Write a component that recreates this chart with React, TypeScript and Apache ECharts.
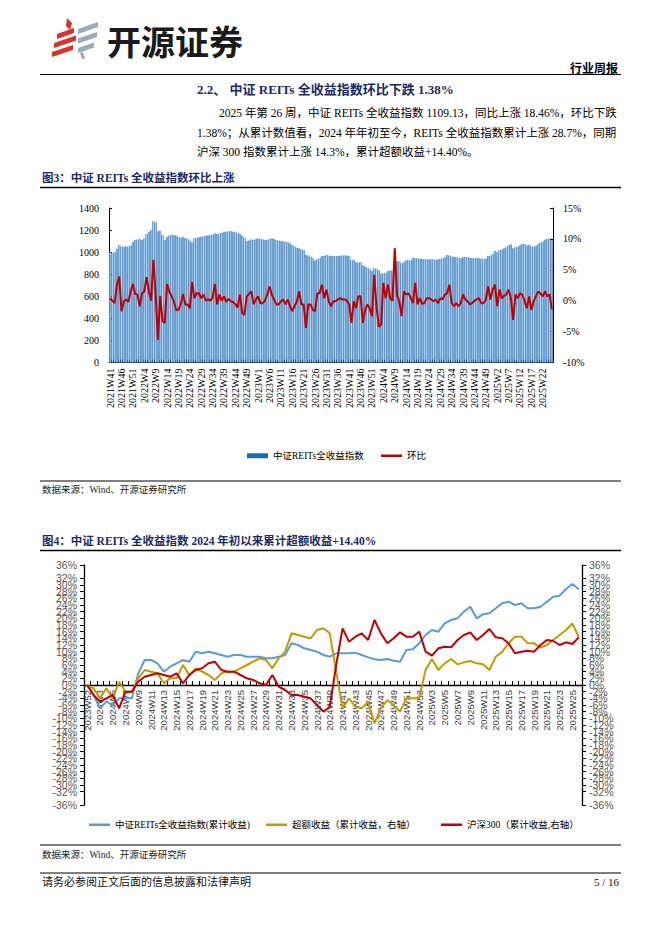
import React, { useEffect, useRef } from "react";
import * as echarts from "echarts";

// ---------- categories ----------
const weekSpans1: number[][] = [[2021, 41, 52], [2022, 1, 53], [2023, 1, 52], [2024, 1, 52], [2025, 1, 26]];
const weekSpans2: number[][] = [[2023, 52, 52], [2024, 2, 53], [2025, 2, 26]];
function weekLabels(spans: number[][]): string[] {
  const out: string[] = [];
  spans.forEach(([y, a, b]) => { for (let w = a; w <= b; w++) out.push(`${y}W${w}`); });
  return out;
}
const weeks1 = weekLabels(weekSpans1);
const weeks2 = weekLabels(weekSpans2);

// ---------- chart 1 data ----------
const reitsIndex: number[] = [
  1000, 995, 1000, 1030, 1065, 1050, 1050, 1050, 1050, 1060,
  1095, 1110, 1115, 1120, 1110, 1125, 1165, 1185, 1200, 1280,
  1270, 1190, 1195, 1155, 1110, 1140, 1150, 1155, 1155, 1150,
  1140, 1130, 1140, 1130, 1120, 1105, 1090, 1125, 1130, 1135,
  1140, 1145, 1150, 1150, 1155, 1160, 1170, 1165, 1170, 1175,
  1185, 1185, 1190, 1190, 1185, 1185, 1175, 1165, 1150, 1130,
  1100, 1105, 1115, 1110, 1120, 1125, 1120, 1115, 1110, 1110,
  1120, 1125, 1120, 1110, 1105, 1100, 1100, 1095, 1090, 1080,
  1065, 1050, 1040, 1035, 1025, 1020, 975, 970, 960, 945,
  925, 935, 945, 965, 965, 975, 970, 965, 965, 965,
  965, 968, 970, 970, 970, 965, 930, 930, 910, 905,
  910, 880, 870, 860, 845, 830, 855, 850, 835, 805,
  810, 812, 830, 832, 835, 910, 920, 918, 898, 912,
  925, 930, 925, 950, 945, 945, 940, 938, 935, 938,
  935, 935, 935, 932, 935, 937, 945, 955, 975, 970,
  962, 958, 955, 950, 945, 955, 957, 955, 950, 945,
  945, 948, 945, 940, 940, 942, 965, 967, 985, 1010,
  1000, 1020, 1025, 1035, 1045, 1065, 1070, 1035, 1045, 1050,
  1063, 1075, 1075, 1060, 1068, 1052, 1050, 1058, 1075, 1088,
  1096, 1112, 1120, 1125, 1109.13,
];
const weeklyChange: number[] = [
  0.4, 0, -0.4, 2.6, 3.9, -1.7, -0.1, 0.2, -0.2, 1.5,
  2.7, 1.1, 1.0, -0.9, 1.2, 1.5, 3.8, 1.5, 0.0, 6.6,
  1.0, -6.3, 0.8, -3.3, -3.6, 2.7, 1.5, 0.7, -0.1, -1.5,
  -1.5, -0.6, 1.1, -0.6, -0.6, -1.2, 3.0, 0.4, 1.2, 1.2,
  0.4, 1.0, 0.0, 0.2, 0.0, 0.5, 2.7, -0.6, 1.0, 0.0,
  0.7, -0.2, 0.3, -0.1, -0.2, -0.6, -1.1, 1.0, -2.0, -2.3,
  0.7, 1.1, 1.5, -0.6, 0.2, 0.7, -0.4, -0.4, 0.0, 1.0,
  2.3, 1.0, 0.2, -0.6, -0.6, -0.1, 0.2, -0.6, 0.2, -0.9,
  -1.7, -0.9, -0.1, 1.5, -0.6, -0.6, -4.4, -0.6, -0.6, -1.5,
  -1.7, 1.2, 1.2, 2.6, 0.4, 1.8, -0.1, -0.9, -0.1, -0.1,
  0.2, 0.4, 0.2, 0.2, 0.0, -0.6, -3.6, -0.1, -1.2, 0.7,
  0.7, -3.6, -1.5, -0.6, -1.2, -2.5, 4.2, -1.0, -4.2, -3.9,
  2.9, 0.4, 2.6, 0.4, 0.0, 8.5, 1.0, -0.1, -2.5, 1.5,
  1.0, 1.2, 0.5, -0.4, 2.9, -0.6, 0.4, -0.5, -0.4, 0.4,
  0.4, 0.2, -0.1, 0.2, -0.4, 0.4, 0.2, 1.0, 1.2, 2.6,
  -0.4, -0.9, -0.4, -0.9, -0.4, 1.0, 0.2, -0.1, -0.6, -0.4,
  0.0, 0.2, 0.4, -0.4, -0.4, 0.2, 2.3, 0.2, 1.8, 2.6,
  -0.9, 1.8, 0.4, 0.8, 1.0, 1.8, 0.4, -3.1, 1.0, 0.4,
  1.2, 1.0, 0.0, -1.2, 0.7, -1.5, -0.1, 0.7, 1.5, 1.2,
  0.7, 1.5, 0.7, 1.0, -1.38,
];

// ---------- chart 2 data ----------
const reitsCum: number[] = [
  0, -3, -7, -5, -6, -4, -4, -4, 3.5, 7.5,
  7.5, 6.5, 4, 5.5, 6.5, 7.5, 7, 10, 9.5, 10,
  9.5, 9, 8.5, 9, 9, 8.5, 8.5, 8.5, 8, 8,
  8.5, 9, 12.5, 12, 11, 10.5, 10, 9, 8.5, 9.5,
  9.5, 9.5, 9.7, 9, 8.3, 7.7, 7.5, 7.8, 7.3, 7,
  10.5, 10.7, 12.5, 15, 16.5, 16, 18.5, 19.5, 20, 22,
  23.5, 20, 21.2, 21.5, 23, 24.5, 25, 24, 24.5, 23,
  23, 23.5, 25, 26.5, 26.8, 28.8, 30.3, 28.7,
];
const excessCum: number[] = [
  0, -1, -4, -1, -4, 1, -2, -2, 2, 4.5,
  4, 3.5, 0.5, 2, 2, 6, 3, 5, 4, 3,
  1.5, 3.5, 4, 4, 5, 6, 7, 8, 7.5, 5,
  8, 10, 15.5, 15, 14.5, 14, 16.5, 17, 15.5, 4,
  -7, -4, -6.5, -7, -5, -11.5, -7, -4.5, -6, -8,
  -4, -4, -4, 4.5, 7.8, 4.5, 6.5, 7.8, 6.2, 6.8,
  7.2, 6.5, 6.2, 4.5, 8.5, 10, 12.5, 14.5, 14.5, 12.5,
  12.5, 11.2, 12, 13.5, 15, 16.5, 18.5, 14.4,
];
const hs300Cum: number[] = [
  0, -3, -5, -4, -3, -7, -2, -2, 1, 2.5,
  3, 3.5, 3, 2.5, 3.5, 0.5, 3, 4.5, 5, 6.5,
  7, 4.5, 4, 4, 3, 2, 1.5, 0.5, 0, 3,
  -0.5, -1.5, -3, -3, -3.5, -4, -6, -8, -6.5, 6,
  17, 13, 14.5, 15.5, 13.5, 19.5, 15.5, 12.5, 14, 15.8,
  14.5, 14.5, 16, 10, 8.8, 11, 11.5, 11.3, 13.5, 15,
  15.8, 13.5, 15, 16.8, 14.3, 14, 12.5, 9.5, 10, 10.3,
  10, 12, 13.5, 13.2, 12, 12.8, 12.3, 14.3,
];

// ---------- texts ----------
const heading = "2.2、 中证 REITs 全收益指数环比下跌 1.38%";
const paraLines = [
  "2025 年第 26 周，中证 REITs 全收益指数 1109.13，同比上涨 18.46%，环比下跌",
  "1.38%；从累计数值看，2024 年年初至今，REITs 全收益指数累计上涨 28.7%，同期",
  "沪深 300 指数累计上涨 14.3%，累计超额收益+14.40%。",
];
const fig3Title = "图3：中证 REITs 全收益指数环比上涨";
const fig4Title = "图4：中证 REITs 全收益指数 2024 年初以来累计超额收益+14.40%";
const sourceText = "数据来源：Wind、开源证券研究所";
const footerText = "请务必参阅正文后面的信息披露和法律声明";
const pageNo = "5 / 16";
const s1Name = "中证REITs全收益指数";
const s2Name = "环比";
const l1Name = "中证REITs全收益指数(累计收益)";
const l2Name = "超额收益（累计收益，右轴）";
const l3Name = "沪深300（累计收益,右轴）";

const SERIF = "'Liberation Serif','Noto Sans CJK SC'";
const NAVY = "#1c2b66";

function txt(x: number, y: number, text: string, size: number, opts: any = {}) {
  const align = opts.align || "left";
  return {
    type: "text",
    x, y, silent: true,
    style: {
      text,
      fill: opts.fill || "#000",
      font: `${opts.weight || "normal"} ${size}px ${opts.family || SERIF}`,
      textAlign: align, align,
      textVerticalAlign: "middle", verticalAlign: "middle",
    },
  };
}
function hline(y: number, w = 1, x1 = 40, x2 = 621) {
  return { type: "line", silent: true, shape: { x1, y1: y, x2, y2: y }, style: { stroke: "#000", lineWidth: w } };
}
function poly(points: number[][], fill: string) {
  return { type: "polygon", silent: true, shape: { points }, style: { fill } };
}
const pct = (v: number) => `${v}%`;
const plain = (v: number) => `${v}`;

export default function App() {
  const ref = useRef<HTMLDivElement>(null);
  useEffect(() => {
    if (!ref.current) return;
    const chart = echarts.init(ref.current, null, { renderer: "svg" });
    const barGrad = new echarts.graphic.LinearGradient(0, 0, 1, 0, [
      { offset: 0, color: "#1e5a9c" },
      { offset: 0.3, color: "#7ab4e4" },
      { offset: 0.5, color: "#bcdcf6" },
      { offset: 0.7, color: "#7ab4e4" },
      { offset: 1, color: "#1e5a9c" },
    ]);
    const axisBlack = { show: true, lineStyle: { color: "#000", width: 1 } };
    const y2Label = {
      fontSize: 10.5, fontFamily: "Liberation Sans", color: "#595959", margin: 7,
      formatter: pct, showMinLabel: true, showMaxLabel: true, hideOverlap: false,
    };
    const option: any = {
      animation: false,
      backgroundColor: "#fff",
      grid: [
        { left: 109, top: 208, width: 444, height: 154.5 },
        { left: 84, top: 565, width: 498, height: 240 },
        { left: 84, top: 565, width: 498, height: 120 },
      ],
      xAxis: [
        {
          gridIndex: 0, type: "category", data: weeks1, boundaryGap: true,
          axisLine: axisBlack,
          axisTick: { show: true, inside: true, length: 3, interval: 0, lineStyle: { color: "#0f2f5c" } },
          axisLabel: { rotate: 90, interval: 4, fontSize: 10, fontFamily: "Liberation Serif", color: "#000", margin: 6 },
          splitLine: { show: false },
        },
        {
          gridIndex: 1, type: "category", data: weeks2, boundaryGap: true, show: false,
          axisLine: { show: false, onZero: false },
        },
        {
          gridIndex: 2, type: "category", data: weeks2, boundaryGap: true,
          axisLine: { show: true, onZero: false, lineStyle: { color: "#000", width: 1.3 } },
          axisTick: { show: true, inside: true, length: 4, interval: 0, lineStyle: { color: "#000" } },
          axisLabel: { rotate: 90, interval: 1, fontSize: 9.5, fontFamily: "Liberation Sans", color: "#404040", margin: 5 },
          splitLine: { show: false },
        },
      ],
      yAxis: [
        {
          gridIndex: 0, type: "value", position: "left", min: 0, max: 1400, interval: 200,
          axisLine: axisBlack, axisTick: { show: true, inside: true, length: 3, lineStyle: { color: "#000" } },
          splitLine: { show: false },
          axisLabel: { fontSize: 10, fontFamily: "Liberation Serif", color: "#000", margin: 10, formatter: plain },
        },
        {
          gridIndex: 0, type: "value", position: "right", min: -10, max: 15, interval: 5,
          axisLine: axisBlack, axisTick: { show: true, inside: true, length: 3, lineStyle: { color: "#000" } },
          splitLine: { show: false },
          axisLabel: { fontSize: 10, fontFamily: "Liberation Serif", color: "#000", margin: 10, formatter: pct },
        },
        {
          gridIndex: 1, type: "value", position: "left", min: -36, max: 36, interval: 2,
          axisLine: { show: true, lineStyle: { color: "#000", width: 1.3 } },
          axisTick: { show: true, inside: false, length: 4, lineStyle: { color: "#000" } },
          splitLine: { show: false },
          axisLabel: y2Label,
        },
        {
          gridIndex: 1, type: "value", position: "right", min: -36, max: 36, interval: 2,
          axisLine: { show: true, lineStyle: { color: "#000", width: 1.3 } },
          axisTick: { show: true, inside: false, length: 4, lineStyle: { color: "#000" } },
          splitLine: { show: false },
          axisLabel: y2Label,
        },
        {
          gridIndex: 2, type: "value", show: false, min: 0, max: 1,
        },
      ],
      legend: [
        {
          left: 247, top: 451, itemWidth: 21, itemHeight: 5, padding: 0,
          data: [{ name: s1Name, icon: "rect", itemStyle: { color: "#1a6db5" } }],
          textStyle: { fontSize: 9.5, fontFamily: SERIF, color: "#000" },
        },
        {
          left: 381, top: 451, itemWidth: 21, itemHeight: 2.5, padding: 0,
          data: [{ name: s2Name, icon: "rect" }],
          textStyle: { fontSize: 9.5, fontFamily: SERIF, color: "#000" },
        },
        {
          left: 89, top: 820, itemWidth: 21, itemHeight: 2.5, padding: 0,
          data: [{ name: l1Name, icon: "rect" }],
          textStyle: { fontSize: 9.5, fontFamily: SERIF, color: "#000" },
        },
        {
          left: 266, top: 820, itemWidth: 21, itemHeight: 2.5, padding: 0,
          data: [{ name: l2Name, icon: "rect" }],
          textStyle: { fontSize: 9.5, fontFamily: SERIF, color: "#000" },
        },
        {
          left: 441, top: 820, itemWidth: 21, itemHeight: 2.5, padding: 0,
          data: [{ name: l3Name, icon: "rect" }],
          textStyle: { fontSize: 9.5, fontFamily: SERIF, color: "#000" },
        },
      ],
      series: [
        {
          name: s1Name, type: "bar", xAxisIndex: 0, yAxisIndex: 0, data: reitsIndex,
          barCategoryGap: "8%", itemStyle: { color: barGrad },
        },
        {
          name: s2Name, type: "line", xAxisIndex: 0, yAxisIndex: 1, data: weeklyChange,
          symbol: "none", color: "#c00000", lineStyle: { color: "#c00000", width: 2 },
        },
        {
          name: l1Name, type: "line", xAxisIndex: 1, yAxisIndex: 2, data: reitsCum,
          symbol: "none", color: "#5b9bd5", lineStyle: { color: "#5b9bd5", width: 2 },
        },
        {
          name: l2Name, type: "line", xAxisIndex: 1, yAxisIndex: 3, data: excessCum,
          symbol: "none", color: "#c49a00", lineStyle: { color: "#c49a00", width: 2 },
        },
        {
          name: l3Name, type: "line", xAxisIndex: 1, yAxisIndex: 3, data: hs300Cum,
          symbol: "none", color: "#c00000", lineStyle: { color: "#c00000", width: 2 },
        },
      ],
      graphic: [
        // logo
        poly([[67, 18], [72, 23], [70, 30], [66, 26]], "#d9342b"),
        poly([[57, 34], [74, 28], [74, 33], [57, 39]], "#d9342b"),
        poly([[54, 43], [76, 35.5], [76, 40.5], [54, 48]], "#d9342b"),
        poly([[52, 52], [73, 45], [73, 50], [52, 57]], "#d9342b"),
        poly([[78, 29], [98, 22], [98, 27], [78, 34]], "#9aaab8"),
        poly([[78, 38.5], [97, 32], [97, 37], [78, 43.5]], "#9aaab8"),
        poly([[78, 48], [94, 42.5], [94, 47.5], [78, 53]], "#9aaab8"),
        poly([[80, 53], [83, 52], [85, 59], [82, 59]], "#9aaab8"),
        txt(107, 40, "开源证券", 34, { weight: "bold", family: "'Noto Sans CJK SC'", fill: "#1a1a1a" }),
        txt(618, 67, "行业周报", 12, { weight: "bold", family: "'Noto Sans CJK SC'", align: "right" }),
        hline(74.5, 1),
        txt(197, 89, heading, 13, { weight: "bold", fill: NAVY }),
        txt(219, 113, paraLines[0], 11.5),
        txt(197, 133, paraLines[1], 11.5),
        txt(197, 152, paraLines[2], 11.5),
        txt(42, 178, fig3Title, 11.5, { weight: "bold", fill: NAVY }),
        hline(187.5, 1.5),
        hline(481, 1),
        txt(42, 490, sourceText, 9.5, { fill: "#222" }),
        txt(42, 541, fig4Title, 11.5, { weight: "bold", fill: NAVY }),
        hline(550.5, 1.5),
        hline(845, 1),
        txt(42, 855, sourceText, 9.5, { fill: "#222" }),
        hline(873, 1),
        txt(42, 882, footerText, 11, { fill: "#111" }),
        txt(619, 882, pageNo, 11, { fill: "#111", align: "right" }),
      ],
    };
    chart.setOption(option);
    return () => chart.dispose();
  }, []);
  return (
    <div
      ref={ref}
      style={{ position: "fixed", left: 0, top: 0, width: 662, height: 936, background: "#fff" }}
    />
  );
}
